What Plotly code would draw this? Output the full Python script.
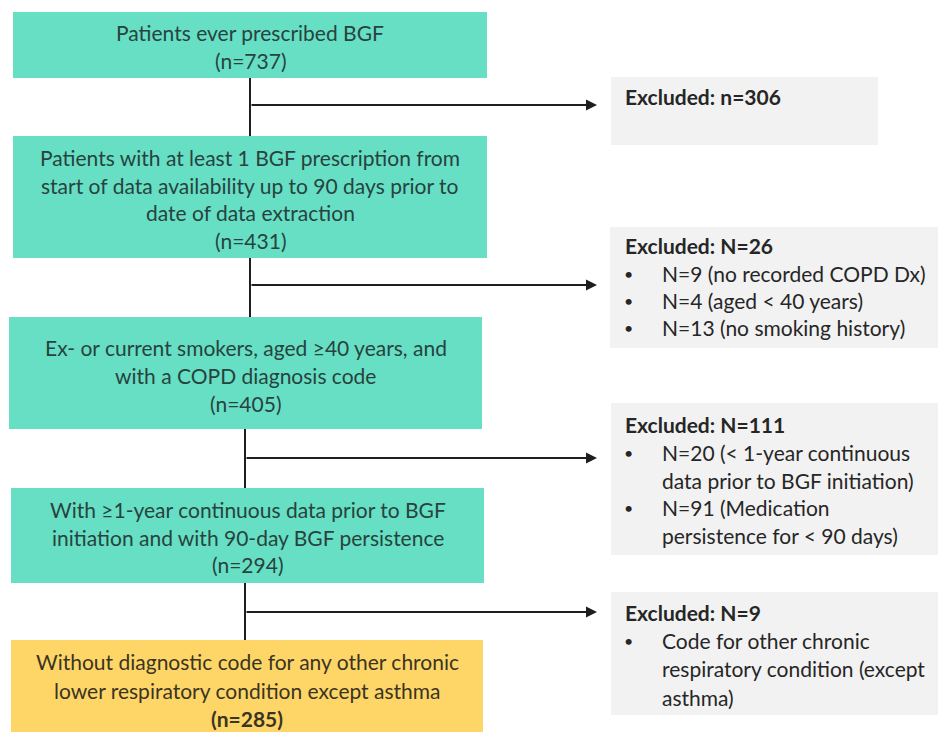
import plotly.graph_objects as go

# ---------------- data ----------------
step_lines = [
    ["Patients ever prescribed BGF"],
    ["Patients with at least 1 BGF prescription from",
     "start of data availability up to 90 days prior to",
     "date of data extraction"],
    ["Ex- or current smokers, aged \u226540 years, and",
     "with a COPD diagnosis code"],
    ["With \u22651-year continuous data prior to BGF",
     "initiation and with 90-day BGF persistence"],
    ["Without diagnostic code for any other chronic",
     "lower respiratory condition except asthma"],
]
step_counts = [737, 431, 405, 294, 285]

excluded_totals = ["n=306", "N=26", "N=111", "N=9"]
excluded_reasons = [
    [],
    [["N=9 (no recorded COPD Dx)"], ["N=4 (aged < 40 years)"], ["N=13 (no smoking history)"]],
    [["N=20 (< 1-year continuous", "data prior to BGF initiation)"],
     ["N=91 (Medication", "persistence for < 90 days)"]],
    [["Code for other chronic", "respiratory condition (except", "asthma)"]],
]

# ---------------- layout geometry ----------------
W, H = 938, 732
main_boxes = [(13, 487, 12, 78), (13, 487, 136, 258), (9, 482, 317, 429),
              (11, 484, 488, 583), (11, 483, 640, 745)]
main_line_y = [[32, 60], [157, 185, 212, 240], [347, 375, 403],
               [509, 537, 564], [661, 690, 718]]
excl_boxes = [(611, 878, 77, 145), (610, 938, 227, 348),
              (611, 938, 403, 555), (611, 938, 592, 715)]
excl_line_y = [[96], [245, 273, 300, 327], [424, 452, 480, 507, 535],
               [612, 640, 668, 697]]
branch_y = [105, 285, 458, 612]
spine_x = [250, 250, 245, 245]
arrow_tip = 597

TEAL = "#66DFC5"
YELLOW = "#FED668"
GREY = "#F2F2F2"
LINE = "#1E1E1E"
FONT = "Lato"
FS = 21

fig = go.Figure()
shapes = []
annotations = []

def add_text(x, y, text, color, anchor="center", bold=False, size=FS):
    annotations.append(dict(
        x=x, y=y, xref="x", yref="y", text=("<b>%s</b>" % text) if bold else text,
        showarrow=False, xanchor=anchor, yanchor="middle",
        font=dict(family=FONT, size=size, color=color)))

# main boxes
for i, (x0, x1, y0, y1) in enumerate(main_boxes):
    fill = YELLOW if i == len(main_boxes) - 1 else TEAL
    shapes.append(dict(type="rect", xref="x", yref="y", x0=x0, x1=x1, y0=y0, y1=y1,
                       fillcolor=fill, line=dict(width=0), layer="below"))
    lines = step_lines[i] + ["(n=%d)" % step_counts[i]]
    tcolor = "#3A3422" if i == len(main_boxes) - 1 else "#28433D"
    cx = (x0 + x1) / 2
    for j, (t, y) in enumerate(zip(lines, main_line_y[i])):
        bold = (i == len(main_boxes) - 1 and j == len(lines) - 1)
        add_text(cx, y, t, tcolor, bold=bold)

# excluded boxes
for i, (x0, x1, y0, y1) in enumerate(excl_boxes):
    shapes.append(dict(type="rect", xref="x", yref="y", x0=x0, x1=x1, y0=y0, y1=y1,
                       fillcolor=GREY, line=dict(width=0), layer="below"))
    ys = excl_line_y[i]
    add_text(623, ys[0], "Excluded: " + excluded_totals[i], "#262626", anchor="left", bold=True)
    k = 1
    for reason in excluded_reasons[i]:
        for j, t in enumerate(reason):
            if j == 0:
                add_text(628, ys[k], "\u2022", "#262626", size=16)
            add_text(660, ys[k], t, "#262626", anchor="left")
            k += 1

# connectors (spine segments between boxes)
for i in range(len(main_boxes) - 1):
    x = spine_x[i]
    shapes.append(dict(type="line", xref="x", yref="y", x0=x, x1=x,
                       y0=main_boxes[i][3], y1=main_boxes[i + 1][2],
                       line=dict(color=LINE, width=2)))
    annotations.append(dict(
        x=arrow_tip, y=branch_y[i], ax=x, ay=branch_y[i], xref="x", yref="y",
        axref="x", ayref="y", showarrow=True, arrowhead=2, arrowsize=1.1,
        arrowwidth=2, arrowcolor=LINE, text=""))

fig.update_layout(
    width=W, height=H, margin=dict(l=0, r=0, t=0, b=0),
    paper_bgcolor="white", plot_bgcolor="white",
    xaxis=dict(range=[0, W], visible=False, fixedrange=True),
    yaxis=dict(range=[H, 0], visible=False, fixedrange=True),
    shapes=shapes, annotations=annotations, showlegend=False,
)
fig.write_html("out.html", config={"displayModeBar": False},
               post_script="document.body.style.margin='0';document.body.style.overflow='hidden';")
